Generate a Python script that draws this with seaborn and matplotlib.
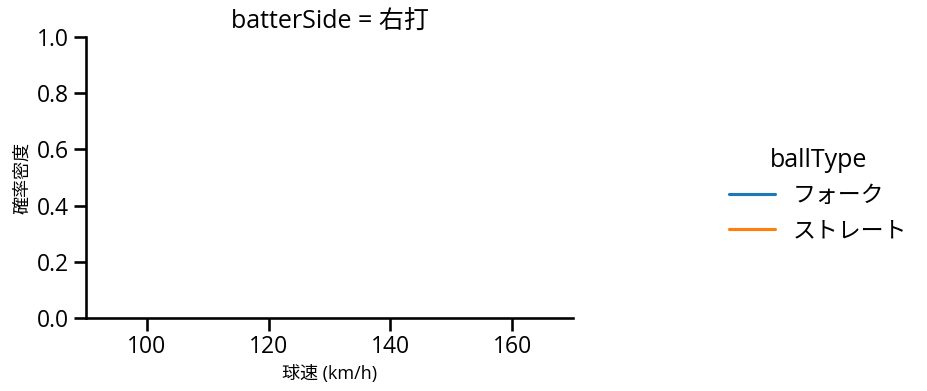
import warnings
import matplotlib
matplotlib.use("Agg")
import matplotlib.pyplot as plt
import seaborn as sns
import pandas as pd

warnings.filterwarnings("ignore")

# data (one pitch per type -> zero variance, so no density curve is drawn)
ball_types = ["フォーク", "ストレート"]
speeds = [135.0, 148.0]
batter_side = ["右打", "右打"]

df = pd.DataFrame({"ballType": ball_types, "speed": speeds, "batterSide": batter_side})

sns.set_theme(style="ticks", context="talk", palette="tab10",
              rc={"text.color": "black", "axes.labelcolor": "black",
                  "xtick.color": "black", "ytick.color": "black",
                  "axes.edgecolor": "black"})
plt.rcParams["font.family"] = ["Open Sans", "Noto Sans CJK JP", "DejaVu Sans"]

g = sns.displot(data=df, x="speed", hue="ballType", col="batterSide",
                kind="kde", hue_order=ball_types, height=3.5, aspect=1.6)
g.set(xlim=(90, 170), ylim=(0, 1))
g.set_titles("batterSide = {col_name}")
for ax in g.axes.flat:
    ax.set_xlabel("球速 (km/h)", fontsize=13)
    ax.set_ylabel("確率密度", fontsize=13)
    ax.set_xticks([100, 120, 140, 160])

fig = g.figure
fig.set_size_inches(9.28, 3.91)
fig.subplots_adjust(left=86/928, right=573/928, bottom=1-318/391, top=1-37/391)
if g._legend is not None:
    g._legend.set_bbox_to_anchor((1.0, 0.5))
fig.savefig("out.png", dpi=100)
